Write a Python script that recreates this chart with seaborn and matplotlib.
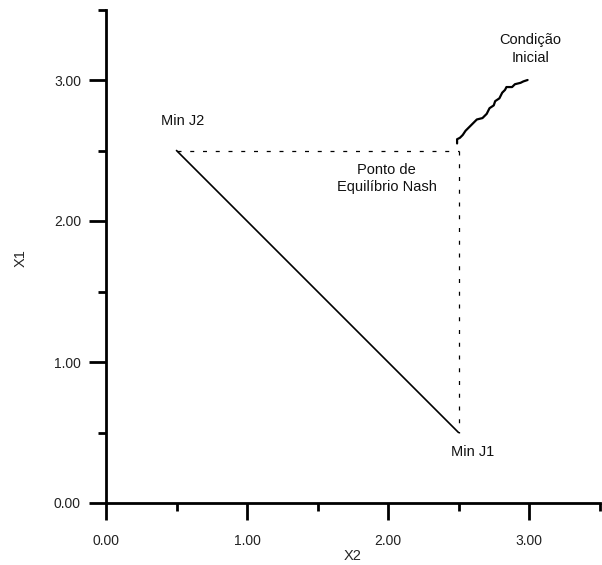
import matplotlib
matplotlib.use("Agg")
import matplotlib.pyplot as plt
import seaborn as sns
import numpy as np
import pandas as pd

# ---- data ----
# line between the two individual minima
min_line_x2 = [0.5, 2.5]
min_line_x1 = [2.5, 0.5]
# dashed guides through the Nash point
hguide_x2 = [0.5, 2.5]
hguide_x1 = [2.5, 2.5]
vguide_x2 = [2.5, 2.5]
vguide_x1 = [2.5, 0.5]
# trajectory from initial condition to the Nash point
traj_x2 = [2.99, 2.96, 2.94, 2.90, 2.88, 2.84, 2.83, 2.81, 2.79, 2.76, 2.75,
           2.72, 2.70, 2.67, 2.63, 2.60, 2.58, 2.55, 2.53, 2.51, 2.49, 2.49]
traj_x1 = [3.00, 2.99, 2.98, 2.97, 2.95, 2.95, 2.93, 2.91, 2.87, 2.85, 2.82,
           2.80, 2.76, 2.73, 2.72, 2.69, 2.67, 2.64, 2.61, 2.59, 2.58, 2.55]

major_ticks = [0.0, 1.0, 2.0, 3.0]
minor_ticks = [0.5, 1.5, 2.5, 3.5]
tick_labels = ["0.00", "1.00", "2.00", "3.00"]

annotations = [
    ("Min J2", 0.54, 2.71),
    ("Ponto de\nEquilíbrio Nash", 1.99, 2.30),
    ("Min J1", 2.60, 0.36),
    ("Condição\nInicial", 3.01, 3.22),
]

sns.set_style("ticks")
plt.rcParams["font.family"] = ["Liberation Sans", "DejaVu Sans"]

fig = plt.figure(figsize=(6.02, 5.65), dpi=100)
ax = fig.add_axes([106 / 602, 62 / 565, 493.5 / 602, 493.5 / 565])

sns.lineplot(x=min_line_x2, y=min_line_x1, sort=False, estimator=None,
             color="black", lw=1.2, ax=ax)
sns.lineplot(x=hguide_x2, y=hguide_x1, sort=False, estimator=None,
             color="black", lw=0.9, ax=ax, dashes=False)
sns.lineplot(x=vguide_x2, y=vguide_x1, sort=False, estimator=None,
             color="black", lw=0.9, ax=ax, dashes=False)
for ln in ax.lines[1:3]:
    ln.set_dashes((3.2, 7.0))
sns.lineplot(x=traj_x2, y=traj_x1, sort=False, estimator=None,
             color="black", lw=1.6, ax=ax)

for txt, x, y in annotations:
    ax.text(x, y, txt, ha="center", va="center", fontsize=10.5,
            linespacing=1.3, color="#111111")

ax.set_xlim(0, 3.5)
ax.set_ylim(0, 3.5)
ax.set_xticks(major_ticks)
ax.set_xticklabels(tick_labels)
ax.set_yticks(major_ticks)
ax.set_yticklabels(tick_labels)
ax.set_xticks(minor_ticks, minor=True)
ax.set_yticks(minor_ticks, minor=True)
ax.tick_params(which="major", length=12, width=2, labelsize=10,
               color="black", labelcolor="#222222")
ax.tick_params(axis="x", which="major", pad=10)
ax.tick_params(axis="y", which="major", pad=6)
ax.tick_params(which="minor", length=6, width=2, color="black")
ax.tick_params(axis="x", direction="out")
ax.tick_params(axis="y", direction="out")

for side in ["top", "right"]:
    ax.spines[side].set_visible(False)
for side in ["left", "bottom"]:
    ax.spines[side].set_linewidth(2)
    ax.spines[side].set_color("black")

ax.set_xlabel("X2", fontsize=10.5, labelpad=1)
ax.set_ylabel("X1", fontsize=10.5)
ax.yaxis.set_label_coords(-78 / 493.5, (503 - 258) / 493.5)
ax.patch.set_alpha(0)

fig.savefig("out.png", dpi=100)
